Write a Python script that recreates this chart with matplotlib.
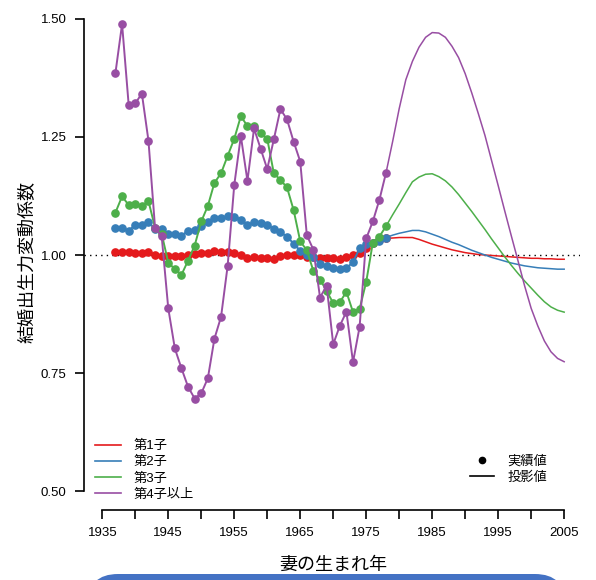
import numpy as np
from matplotlib import pyplot as plt
from matplotlib.lines import Line2D
from matplotlib.patches import FancyBboxPatch
from matplotlib.transforms import IdentityTransform

plt.rcParams['font.family'] = ['Liberation Sans', 'Noto Sans CJK JP', 'DejaVu Sans']

# observed cohorts 1937-1978
obsYears = list(range(1937, 1979))
first = [1.007, 1.007, 1.007, 1.005, 1.005, 1.007, 1.000, 0.998, 0.998, 0.998,
         0.997, 1.000, 1.002, 1.004, 1.005, 1.008, 1.007, 1.007, 1.005, 1.000,
         0.994, 0.995, 0.993, 0.993, 0.992, 0.997, 0.999, 0.999, 0.999, 0.996,
         0.995, 0.993, 0.993, 0.993, 0.992, 0.996, 0.999, 1.004, 1.014, 1.025,
         1.032, 1.035]
second = [1.058, 1.058, 1.051, 1.064, 1.064, 1.069, 1.055, 1.055, 1.044, 1.044,
          1.041, 1.051, 1.053, 1.062, 1.070, 1.078, 1.078, 1.082, 1.081, 1.075,
          1.064, 1.069, 1.068, 1.063, 1.056, 1.048, 1.039, 1.024, 1.009, 1.000,
          0.995, 0.981, 0.977, 0.973, 0.970, 0.972, 0.985, 1.014, 1.023, 1.026,
          1.030, 1.037]
third = [1.090, 1.124, 1.106, 1.108, 1.104, 1.114, 1.058, 1.045, 0.984, 0.970,
         0.958, 0.988, 1.020, 1.071, 1.104, 1.153, 1.173, 1.210, 1.246, 1.294,
         1.273, 1.274, 1.258, 1.246, 1.173, 1.159, 1.143, 1.095, 1.029, 1.010,
         0.966, 0.948, 0.924, 0.898, 0.900, 0.922, 0.879, 0.886, 0.943, 1.026,
         1.039, 1.061]
fourth = [1.386, 1.489, 1.318, 1.321, 1.342, 1.242, 1.057, 1.040, 0.887, 0.802,
          0.760, 0.721, 0.696, 0.707, 0.739, 0.823, 0.869, 0.977, 1.148, 1.252,
          1.157, 1.268, 1.225, 1.182, 1.245, 1.309, 1.287, 1.240, 1.198, 1.042,
          1.011, 0.910, 0.935, 0.811, 0.850, 0.880, 0.773, 0.848, 1.035, 1.071,
          1.117, 1.174]

# projections 1978-2005
projYears = list(range(1978, 2006))
firstProj = [1.035, 1.036, 1.037, 1.037, 1.037, 1.033, 1.028, 1.023, 1.019, 1.015,
             1.011, 1.008, 1.005, 1.003, 1.001, 1.000, 0.999, 0.998, 0.997, 0.996,
             0.995, 0.994, 0.993, 0.993, 0.992, 0.992, 0.991, 0.991]
secondProj = [1.037, 1.042, 1.046, 1.049, 1.052, 1.052, 1.049, 1.044, 1.039, 1.033,
              1.027, 1.022, 1.016, 1.010, 1.005, 1.000, 0.995, 0.991, 0.987, 0.983,
              0.980, 0.977, 0.975, 0.973, 0.972, 0.971, 0.970, 0.970]
thirdProj = [1.061, 1.085, 1.108, 1.132, 1.155, 1.165, 1.171, 1.172, 1.166, 1.157,
             1.144, 1.128, 1.110, 1.092, 1.073, 1.054, 1.034, 1.015, 0.996, 0.978,
             0.961, 0.945, 0.930, 0.915, 0.901, 0.890, 0.883, 0.879]
fourthProj = [1.174, 1.240, 1.310, 1.371, 1.410, 1.440, 1.461, 1.471, 1.470, 1.461,
              1.442, 1.418, 1.384, 1.343, 1.299, 1.253, 1.200, 1.147, 1.093, 1.040,
              0.988, 0.935, 0.887, 0.850, 0.818, 0.795, 0.781, 0.774]

labels = ['第1子', '第2子', '第3子', '第4子以上']
colors = ['#E41A1C', '#377EB8', '#4DAF4A', '#984EA3']
obsAll = [first, second, third, fourth]
projAll = [firstProj, secondProj, thirdProj, fourthProj]

W, H = 596, 580
f = plt.figure(figsize=(W / 100, H / 100), dpi=100)
ax = f.add_axes([84 / W, 70 / H, (580 - 84) / W, 1 - 70 / H])

ax.axhline(1.0, color='black', lw=1.0, ls=(0, (1, 3)), zorder=1)

for obs, proj, c in zip(obsAll, projAll, colors):
    ax.plot(projYears, proj, '-', color=c, lw=1.1, zorder=2)
    ax.plot(obsYears, obs, '-', color=c, lw=1.4, marker='o', ms=5.2, zorder=3)

ax.set_xlim(1932.23, 2007.4)
ax.set_ylim(0.46, 1.540)

for s in ['top', 'right']:
    ax.spines[s].set_visible(False)
ax.spines['left'].set_bounds(0.5, 1.5)
ax.spines['bottom'].set_bounds(1935, 2005)
ax.spines['left'].set_linewidth(1.2)
ax.spines['bottom'].set_linewidth(1.2)

ax.set_yticks([0.5, 0.75, 1.0, 1.25, 1.5])
ax.set_yticklabels(['0.50', '0.75', '1.00', '1.25', '1.50'])
xt = list(range(1935, 2006, 5))
ax.set_xticks(xt)
ax.set_xticklabels([str(y) if (y - 1935) % 10 == 0 else '' for y in xt])
ax.tick_params(axis='both', length=6.5, width=1.2, labelsize=9.5, pad=6)

f.text(28 / W, 1 - 262 / H, '結婚出生力変動係数', rotation=90, ha='center', va='center',
       fontsize=13)
f.text(333 / W, 1 - 565 / H, '妻の生まれ年', ha='center', va='center', fontsize=13)

# series legend
h1 = [Line2D([], [], color=c, lw=1.2) for c in colors]
leg1 = ax.legend(h1, labels, loc='upper left', bbox_to_anchor=(95 / W, 1 - 440 / H),
                 bbox_transform=f.transFigure, frameon=False, fontsize=9.5,
                 handlelength=2.0, handletextpad=0.9, labelspacing=0.3,
                 borderpad=0, borderaxespad=0)
ax.add_artist(leg1)

# observed / projected legend
h2 = [Line2D([], [], color='black', ls='none', marker='o', ms=4.5),
      Line2D([], [], color='black', lw=1.2)]
ax.legend(h2, ['実績値', '投影値'], loc='upper left', bbox_to_anchor=(470 / W, 1 - 455 / H),
          bbox_transform=f.transFigure, frameon=False, fontsize=9.5,
          handlelength=1.8, handletextpad=1.05, labelspacing=0.3,
          borderpad=0, borderaxespad=0)

# blue banner cut off at the bottom edge
banner = FancyBboxPatch((88, -60), 565 - 88, 66, boxstyle='round,pad=0,rounding_size=30',
                        transform=IdentityTransform(), facecolor='#4472C4',
                        edgecolor='none')
f.add_artist(banner)

plt.savefig('out.png', dpi=100)
